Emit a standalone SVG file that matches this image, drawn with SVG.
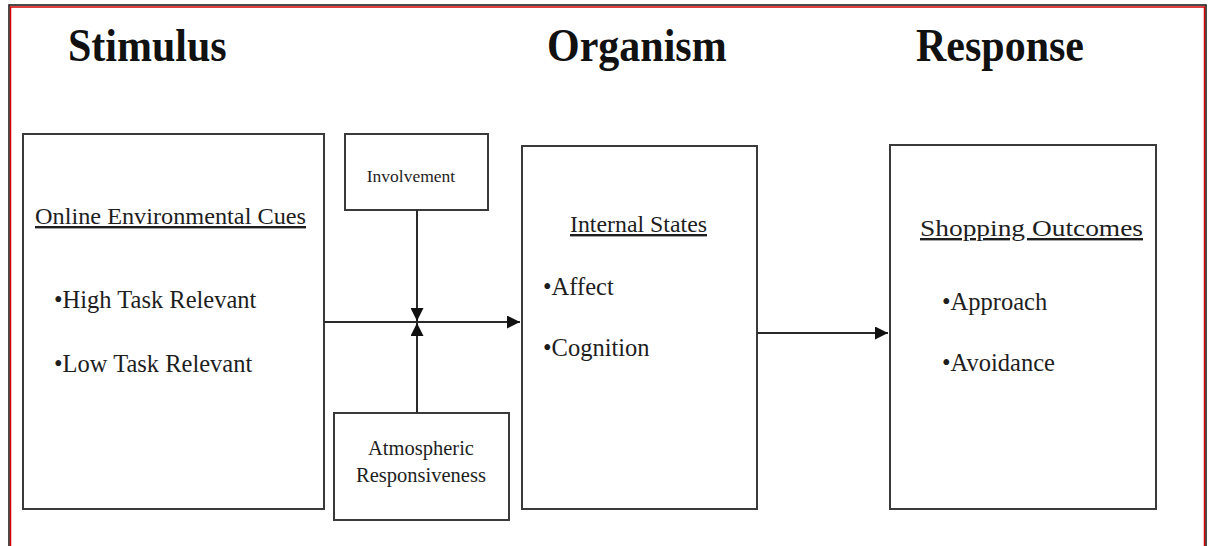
<svg xmlns="http://www.w3.org/2000/svg" width="1208" height="546" viewBox="0 0 1208 546">
  <style>
    .box { fill: #ffffff; stroke: #3a3a3a; stroke-width: 2; }
    .title { font-family: "Liberation Serif", "Times New Roman", serif; font-weight: bold; font-size: 42px; fill: #111; }
    .head { font-family: "Liberation Serif", "Times New Roman", serif; font-size: 24px; fill: #1e1e1e; text-decoration: underline; }
    .item { font-family: "Liberation Serif", "Times New Roman", serif; font-size: 24.5px; fill: #1e1e1e; }
    .small { font-family: "Liberation Serif", "Times New Roman", serif; font-size: 17.5px; fill: #1e1e1e; }
    .mid { font-family: "Liberation Serif", "Times New Roman", serif; font-size: 20.5px; fill: #1e1e1e; }
    .conn { stroke: #2a2a2a; stroke-width: 2; fill: none; }
  </style>
  <defs>
    <marker id="arrow" viewBox="0 0 13 13" refX="13" refY="6.5" markerWidth="13" markerHeight="13" markerUnits="userSpaceOnUse" orient="auto">
      <path d="M0,0 L13,6.5 L0,13 Z" fill="#111"/>
    </marker>
  </defs>

  <rect x="0" y="0" width="1208" height="546" fill="#ffffff"/>
  <!-- outer frame -->
  <path d="M9,552 V5 H1206 V552" fill="none" stroke="#111" stroke-width="1.5"/>
  <path d="M10.5,552 V7 H1204.5 V552" fill="none" stroke="#d40000" stroke-width="1.5"/>

  <!-- column titles -->
  <text class="title" transform="translate(68,61) scale(1,1.13)">Stimulus</text>
  <text class="title" transform="translate(547,61) scale(1,1.13)">Organism</text>
  <text class="title" transform="translate(916,61) scale(1,1.13)">Response</text>

  <g id="stimulus">
    <rect class="box" x="23" y="134" width="301" height="375"/>
    <text class="head" x="35" y="224" textLength="271" lengthAdjust="spacingAndGlyphs">Online Environmental Cues</text>
    <text class="item" x="54" y="308">•High Task Relevant</text>
    <text class="item" x="54" y="372">•Low Task Relevant</text>
  </g>

  <g id="involvement">
    <rect class="box" x="345" y="134" width="143" height="76"/>
    <text class="small" x="411" y="182" text-anchor="middle">Involvement</text>
  </g>

  <g id="atmospheric">
    <rect class="box" x="334" y="413" width="175" height="107"/>
    <text class="mid" x="421" y="455" text-anchor="middle">Atmospheric</text>
    <text class="mid" x="421" y="482" text-anchor="middle">Responsiveness</text>
  </g>

  <g id="organism">
    <rect class="box" x="522" y="146" width="235" height="363"/>
    <text class="head" x="570" y="232" textLength="137" lengthAdjust="spacingAndGlyphs">Internal States</text>
    <text class="item" x="543" y="295">•Affect</text>
    <text class="item" x="543" y="356">•Cognition</text>
  </g>

  <g id="response">
    <rect class="box" x="890" y="145" width="266" height="364"/>
    <text class="head" x="920" y="236" font-size="27" textLength="223" lengthAdjust="spacingAndGlyphs">Shopping Outcomes</text>
    <text class="item" x="942" y="310">•Approach</text>
    <text class="item" x="942" y="371">•Avoidance</text>
  </g>

  <g id="connectors">
    <line class="conn" x1="324" y1="322" x2="520" y2="322" marker-end="url(#arrow)"/>
    <line class="conn" x1="417" y1="210" x2="417" y2="321" marker-end="url(#arrow)"/>
    <line class="conn" x1="417" y1="413" x2="417" y2="323" marker-end="url(#arrow)"/>
    <line class="conn" x1="757" y1="333" x2="888" y2="333" marker-end="url(#arrow)"/>
  </g>
</svg>
